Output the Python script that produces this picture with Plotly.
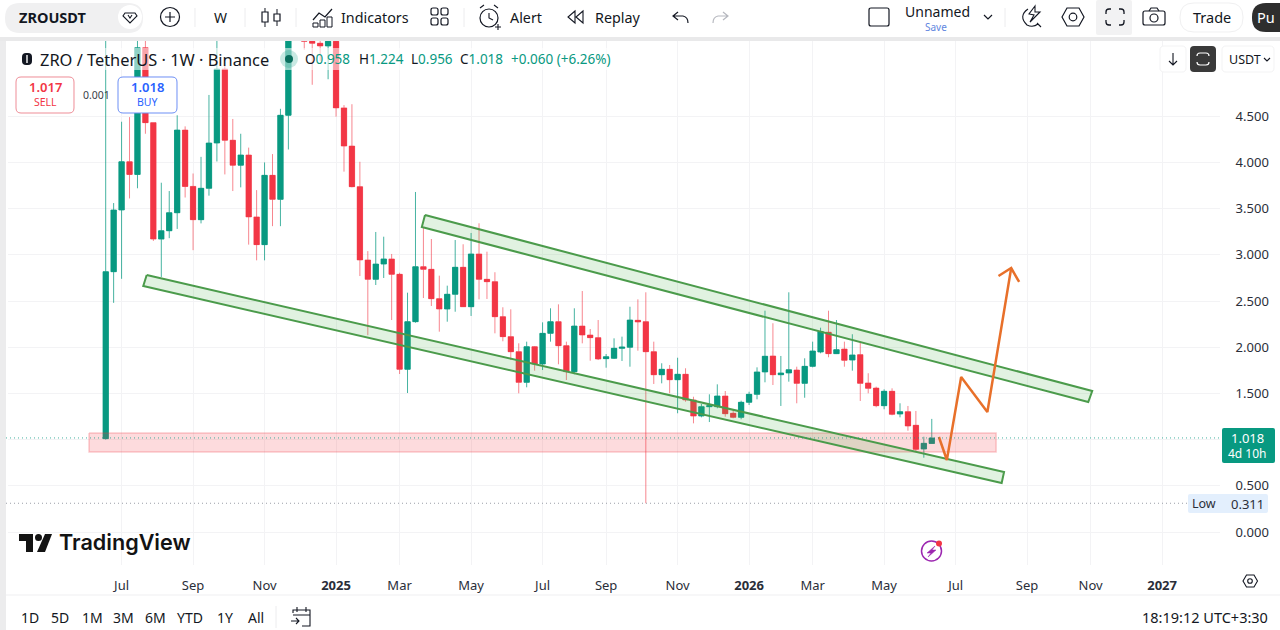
import re
import pandas as pd
import plotly.graph_objects as go

# ---------- data ----------
first_week = "2024-06-17"
opens = [1.01,2.817,3.485,4.007,3.87,5.24,4.43,3.17,3.26,3.455,4.35,3.74,3.38,3.72,4.21,5.01,4.24,3.97,4.08,3.41,
         3.11,3.86,3.60,4.51,5.9,6.25,5.31,5.29,5.26,5.31,4.59,4.177,3.737,2.944,2.735,2.90,2.955,2.789,1.761,2.276,
         2.871,2.843,2.525,2.413,2.573,2.865,2.438,3.009,2.735,2.709,2.33,2.114,1.951,1.62,2.005,1.818,2.15,2.276,2.016,1.735,
         2.229,2.132,2.103,1.876,1.88,1.988,2.0,2.291,2.276,1.951,1.702,1.761,1.648,1.707,1.429,1.255,1.356,1.356,1.472,1.285,
         1.241,1.404,1.49,1.732,1.905,1.702,1.721,1.753,1.609,1.793,1.948,2.162,1.93,1.98,1.861,1.919,1.613,1.558,1.367,1.523,
         1.277,1.302,1.155,0.898,0.958]
highs = [6.2,3.56,4.44,4.49,5.55,5.5,4.43,3.78,3.69,4.51,4.39,3.88,4.06,4.73,5.5,5.05,4.47,4.31,4.16,3.70,
         4.00,4.09,4.58,6.1,6.5,6.4,5.6,5.5,5.6,5.7,4.62,4.63,4.007,3.04,3.247,3.196,3.009,2.806,2.59,3.68,
         3.304,3.171,2.774,2.666,3.16,3.114,3.236,3.341,3.034,2.811,2.432,2.41,2.042,2.06,2.01,2.269,2.421,2.464,2.06,2.421,
         2.608,2.197,2.294,1.926,2.096,2.114,2.438,2.518,2.594,2.06,1.826,1.807,1.886,1.772,1.464,1.385,1.49,1.598,1.526,1.328,
         1.421,1.518,1.782,2.395,2.259,1.905,2.594,1.789,1.88,2.06,2.211,2.395,2.294,2.06,2.14,2.06,1.718,1.573,1.544,1.555,
         1.393,1.364,1.31,1.031,1.224]
lows = [1.0,2.48,2.74,3.61,3.72,4.31,3.15,2.76,3.18,3.28,3.62,3.05,3.34,3.64,4.01,3.87,3.69,3.73,3.11,2.94,
        2.94,3.31,3.31,4.14,5.7,5.22,4.84,5.1,4.90,4.495,3.90,3.73,2.77,2.13,2.673,2.749,2.294,1.71,1.504,2.265,
        2.532,2.446,2.168,2.276,2.384,2.435,2.338,2.518,2.522,2.15,2.064,1.861,1.501,1.566,1.746,1.753,2.06,1.815,1.645,1.707,
        2.042,1.854,1.861,1.778,1.872,1.851,1.789,1.962,0.311,1.602,1.609,1.501,1.285,1.41,1.176,1.241,1.19,1.339,1.248,1.231,
        1.22,1.374,1.436,1.62,1.591,1.364,1.627,1.393,1.453,1.782,1.934,1.891,1.926,1.789,1.746,1.418,1.501,1.35,1.328,1.263,
        1.241,1.096,0.869,0.804,0.956]
closes = [2.817,3.485,4.007,3.87,5.24,4.43,3.17,3.26,3.455,4.35,3.74,3.38,3.72,4.21,5.01,4.24,3.97,4.08,3.41,3.11,
          3.86,3.60,4.51,5.9,6.25,5.31,5.29,5.26,5.31,4.59,4.177,3.737,2.944,2.735,2.90,2.955,2.789,1.761,2.276,2.871,
          2.843,2.525,2.413,2.573,2.865,2.438,3.009,2.735,2.709,2.33,2.114,1.951,1.62,2.005,1.818,2.15,2.276,2.016,1.735,2.229,
          2.132,2.103,1.872,1.897,1.988,2.002,2.294,2.273,1.951,1.702,1.761,1.648,1.707,1.429,1.255,1.356,1.367,1.472,1.28,1.241,
          1.404,1.49,1.732,1.902,1.702,1.721,1.756,1.609,1.793,1.959,2.168,1.93,1.973,1.858,1.916,1.609,1.555,1.367,1.523,1.274,
          1.302,1.147,0.895,0.96,1.018]

last_price = 1.018
low_price = 0.311

price_ticks = [0, 0.5, 1.0, 1.5, 2.0, 2.5, 3.0, 3.5, 4.0, 4.5]
price_tick_labels = ["0.000", "0.500", "", "1.500", "2.000", "2.500", "3.000", "3.500", "4.000", "4.500"]
month_ticks = ["2024-07-01","2024-09-02","2024-11-04","2025-01-06","2025-03-03","2025-05-05","2025-07-07","2025-09-01",
               "2025-11-03","2026-01-05","2026-03-02","2026-05-04","2026-07-06","2026-09-07","2026-11-02","2027-01-04"]
month_labels = ["Jul","Sep","Nov","<b>2025</b>","Mar","May","Jul","Sep","Nov","<b>2026</b>","Mar","May","Jul","Sep","Nov","<b>2027</b>"]

# drawings: week offset from first candle, price
upper_weeks = [40.2, 124.2, 123.7, 39.8, 40.2]
upper_prices = [3.431, 1.526, 1.407, 3.301, 3.431]
lower_weeks = [5.16, 113.1, 112.8, 4.73, 5.16]
lower_prices = [2.781, 0.649, 0.530, 2.662, 2.781]
zone_weeks = [-2.1, 112.1, 112.1, -2.1, -2.1]
zone_prices = [1.071, 1.071, 0.866, 0.866, 1.071]
path_weeks = [104.9, 105.9, 107.7, 111.0, 114.0]
path_prices = [1.028, 0.779, 1.677, 1.299, 2.857]
head_weeks = [112.4, 114.0, 115.0]
head_prices = [2.771, 2.857, 2.706]

GREEN = "#089981"
RED = "#f23645"
BLUE = "#2962ff"
INK = "#131722"
FONT = "Noto Sans"


def wk(weeks):
    base = pd.Timestamp(first_week)
    return [base + pd.Timedelta(days=7 * w) for w in weeks]


dates = wk(range(len(opens)))

fig = go.Figure()
# wicks
fig.add_trace(go.Candlestick(
    x=dates, open=opens, high=highs, low=lows, close=closes,
    increasing=dict(line=dict(color="rgba(8,153,129,0.75)", width=1), fillcolor=GREEN),
    decreasing=dict(line=dict(color="rgba(242,54,69,0.6)", width=1), fillcolor=RED),
    showlegend=False, hoverinfo="skip"))
# solid bodies
fig.add_trace(go.Candlestick(
    x=dates, open=opens, close=closes,
    high=[max(o, c) for o, c in zip(opens, closes)],
    low=[min(o, c) for o, c in zip(opens, closes)],
    increasing=dict(line=dict(color=GREEN, width=0), fillcolor=GREEN),
    decreasing=dict(line=dict(color=RED, width=0), fillcolor=RED),
    showlegend=False, hoverinfo="skip"))


def drawing(weeks, prices, line, fill=None, width=2):
    fig.add_trace(go.Scatter(
        x=wk(weeks), y=prices, mode="lines", showlegend=False, hoverinfo="skip",
        line=dict(color=line, width=width),
        fill="toself" if fill else None, fillcolor=fill))


drawing(zone_weeks, zone_prices, "rgba(242,54,69,0.25)", "rgba(242,54,69,0.18)", 1.5)
drawing(upper_weeks, upper_prices, "#4b9b4b", "rgba(76,175,80,0.17)", 2)
drawing(lower_weeks, lower_prices, "#4b9b4b", "rgba(76,175,80,0.17)", 2)
drawing(path_weeks, path_prices, "#e8702a", None, 2.5)
drawing(head_weeks, head_prices, "#e8702a", None, 2.5)

# ---------- page chrome, in pixels of the 1280x630 page ----------
shapes = []
annots = []


def X(x): return x / 1280
def Y(y): return 1 - y / 630


def P(d):
    it = iter(re.findall(r"[A-Za-z]|-?\d+\.?\d*", d))
    out = []
    for tok in it:
        if tok.isalpha():
            out.append(tok)
        else:
            out.append(f"{X(float(tok)):.5f},{Y(float(next(it))):.5f}")
    return " ".join(out)


def path(d, line=INK, width=1.2, fill=None):
    shapes.append(dict(type="path", xref="paper", yref="paper", path=P(d), layer="above",
                       line=dict(color=line, width=width), fillcolor=fill or "rgba(0,0,0,0)"))


def rrect(x0, y0, x1, y1, r=0, line=None, width=1, fill=None):
    d = (f"M {x0+r} {y0} L {x1-r} {y0} Q {x1} {y0} {x1} {y0+r} L {x1} {y1-r} Q {x1} {y1} {x1-r} {y1} "
         f"L {x0+r} {y1} Q {x0} {y1} {x0} {y1-r} L {x0} {y0+r} Q {x0} {y0} {x0+r} {y0} Z")
    shapes.append(dict(type="path", xref="paper", yref="paper", path=P(d), layer="above",
                       line=dict(color=line or "rgba(0,0,0,0)", width=width if line else 0),
                       fillcolor=fill or "rgba(0,0,0,0)"))


def circ(cx, cy, r, line=INK, width=1.2, fill=None):
    shapes.append(dict(type="circle", xref="paper", yref="paper", layer="above",
                       x0=X(cx - r), x1=X(cx + r), y0=Y(cy + r), y1=Y(cy - r),
                       line=dict(color=line or "rgba(0,0,0,0)", width=width if line else 0),
                       fillcolor=fill or "rgba(0,0,0,0)"))


def text(x, y, s, size=14, color=INK, anchor="center", family=FONT, weight=None):
    f = dict(size=size, color=color, family=family)
    if weight:
        f["weight"] = weight
    annots.append(dict(xref="paper", yref="paper", x=X(x), y=Y(y), text=s, showarrow=False,
                       xanchor=anchor, yanchor="middle", font=f, borderpad=0, borderwidth=0))


# frame
rrect(0, 37, 1280, 41, fill="#e9e9ea")
rrect(0, 41, 6, 630, fill="#ececed")
path("M 6 595 L 1280 595", line="#efeff1", width=1)

# translucent strip under the legend
rrect(36, 48, 612, 70, fill="rgba(255,255,255,0.55)")

# top toolbar
rrect(5, 3, 143, 33, r=15, fill="#f0f0f1")
text(19, 17, "ZROUSDT", 14.5, anchor="left", weight=700)
circ(130, 17, 12, line=None, fill="#ffffff")
path("M 125 13 L 135 13 L 137 16 L 130 23 L 123 16 Z M 128 15 L 130 18 L 132 15", width=1.1)
circ(170, 17, 9.5)
path("M 170 12 L 170 22 M 165 17 L 175 17")
for dx in (195, 245, 296, 464, 1005):
    path(f"M {dx} 8 L {dx} 27", line="#ececee", width=1)
text(220, 17, "W", 14)
path("M 265 8 L 265 27 M 277 9 L 277 26", width=1)
rrect(262, 12, 268, 22, line=INK, width=1.2, fill="#ffffff")
rrect(274, 14, 280, 21, line=INK, width=1.2, fill="#ffffff")
path("M 313 20 L 319 13 L 325 17 L 332 9", width=1.2)
path("M 313 27 L 313 23 L 318 23 L 318 27 Z M 320 27 L 320 20 L 325 20 L 325 27 Z M 327 27 L 327 17 L 332 17 L 332 27 Z", width=1)
text(341, 17, "Indicators", 14.3, anchor="left")
for gx, gy in ((431, 8), (441, 8), (431, 18), (441, 18)):
    rrect(gx, gy, gx + 7, gy + 7, r=2, line=INK, width=1.2)
circ(489, 18, 9)
path("M 489 13 L 489 18 L 493 20 M 480 8 L 484 5 M 498 8 L 494 5 M 495 27 L 501 27 M 498 24 L 498 30", width=1.1)
text(510, 17, "Alert", 14.3, anchor="left")
path("M 575 11 L 568 17 L 575 23 Z M 583 11 L 576 17 L 583 23 Z", width=1.1)
text(595, 17, "Replay", 14.3, anchor="left")
path("M 678 12 L 673 16 L 678 20 M 673 16 L 683 16 Q 688 17 688 23", width=1.2)
path("M 723 12 L 728 16 L 723 20 M 728 16 L 718 16 Q 713 17 713 23", line="#b6b8bf", width=1.2)
rrect(869, 8, 889, 26, r=2, line=INK, width=1.2)
text(937, 11.5, "Unnamed", 14)
text(936, 27, "Save", 10, color="#5f86e0")
path("M 984 15 L 988 19 L 992 15", width=1.2)
path("M 1035 6 L 1029 14 L 1034 15 L 1030 22 L 1040 12 L 1035 12 Z M 1028 9 Q 1018 16 1027 25 Q 1033 28 1038 24 M 1037 23 L 1041 27", width=1.1)
path("M 1062 17 L 1067 8 L 1079 8 L 1084 17 L 1079 26 L 1067 26 Z", width=1.2)
circ(1073, 17, 3.8)
rrect(1096, 0, 1132, 35, r=2, fill="#f2f2f3")
path("M 1106 14 L 1106 12 Q 1106 9 1109 9 L 1111 9 M 1119 9 L 1121 9 Q 1124 9 1124 12 L 1124 14 "
     "M 1124 20 L 1124 22 Q 1124 25 1121 25 L 1119 25 M 1111 25 L 1109 25 Q 1106 25 1106 22 L 1106 20", width=1.3)
rrect(1143, 11, 1165, 25, r=2, line=INK, width=1.2)
path("M 1149 11 L 1151 8 L 1157 8 L 1159 11", width=1.2)
circ(1154, 18, 4)
rrect(1180, 3, 1243, 32, r=14, line="#f0f0f1", width=1, fill="#ffffff")
text(1212, 17, "Trade", 14.5)
rrect(1252, 3, 1300, 32, r=14, fill="#2e2e2e")
text(1266, 17, "Pu", 14.5, color="#ffffff", anchor="center")

# legend row
rrect(22, 53, 32, 65, r=4, fill="#131722")
path("M 27 55 L 27 63", line="#ffffff", width=1.4)
text(40, 59, "ZRO / TetherUS · 1W · Binance", 16.4, anchor="left")
circ(289, 59, 9, line=None, fill="rgba(8,153,129,0.22)")
circ(289, 59, 4, line=None, fill="#0a6e5d")
for lx, letter, val in ((305, "O", "0.958"), (358.5, "H", "1.224"), (410.5, "L", "0.956"), (459.5, "C", "1.018")):
    text(lx, 59, f'{letter}<span style="color:{GREEN}">{val}</span>', 13.5, anchor="left")
text(510.5, 59, "+0.060 (+6.26%)", 13.5, color=GREEN, anchor="left")

# buy / sell
rrect(16, 77, 74, 113, r=5, line="#ee8d97", width=1, fill="#ffffff")
text(45, 87, "1.017", 13, color=RED, weight=600)
text(45, 102, "SELL", 10.5, color=RED)
text(96, 95, "0.001", 10.5, color="#3a3e48")
rrect(118, 77, 177, 113, r=5, line="#6d8ff5", width=1, fill="#ffffff")
text(147.5, 87, "1.018", 13, color=BLUE, weight=600)
text(147.5, 102, "BUY", 10.5, color=BLUE)

# top-right controls
rrect(1160, 46, 1186, 72, r=4, line="#f3f3f4", width=1, fill="#ffffff")
path("M 1173 53 L 1173 65 M 1169 61 L 1173 65 L 1177 61", width=1.1)
rrect(1190, 46, 1216, 72, r=4, fill="#3a3a3a")
path("M 1197 56 Q 1197 53 1200 53 L 1206 53 Q 1209 53 1209 56 M 1209 62 Q 1209 65 1206 65 L 1200 65 Q 1197 65 1197 62",
     line="#ffffff", width=1.2)
rrect(1222, 46, 1274, 72, r=4, line="#f3f3f4", width=1, fill="#ffffff")
text(1229, 59, "USDT", 12.5, anchor="left")
path("M 1264 58 L 1267 61 L 1270 58", width=1.1)

# price tags
rrect(1222, 428, 1275, 463, r=2, fill=GREEN)
text(1247, 438, "1.018", 13, color="#ffffff")
text(1247, 453, "4d 10h", 12, color="#ffffff")
rrect(1188, 494, 1268, 513, r=2, fill="#e3effd")
text(1204, 503.5, "Low", 12.5, color="#2a2e39")
text(1247, 503.5, "0.311", 13, color="#2a2e39")

# TradingView logo
path("M 19 534 L 33 534 L 33 552 L 26 552 L 26 541 L 19 541 Z", line=INK, width=0, fill="#131313")
circ(38.5, 537.5, 3.5, line=None, fill="#131313")
path("M 45 534 L 52 534 L 45 552 L 37 552 Z", line=INK, width=0, fill="#131313")
text(59, 542, "TradingView", 21.6, color="#131313", anchor="left", family="Inter", weight=600)

# bolt badge
circ(931.5, 551, 10, line="#9c27b0", width=1.5)
path("M 935 546 L 927 553 L 931 553 L 928 557 L 936 550 L 932 550 Z", line="#9c27b0", width=0.5, fill="#9c27b0")
circ(939, 543.5, 3, line=None, fill="#f23645")

# settings hexagon
path("M 1243 581 L 1246.5 575 L 1254 575 L 1257.5 581 L 1254 587 L 1246.5 587 Z", width=1.1)
circ(1250, 581, 2.3, width=1.1)

# bottom toolbar
for bx, s in ((30, "1D"), (60, "5D"), (92, "1M"), (123, "3M"), (155, "6M"), (190, "YTD"), (225, "1Y"), (256, "All")):
    text(bx, 617, s, 14)
path("M 276 606 L 276 628", line="#ececee", width=1)
path("M 293 613 L 293 610 L 310 610 L 310 626 L 302 626 M 293 615 L 310 615 M 297 607 L 297 612 M 306 607 L 306 612 M 291 621 L 299 621 M 296 618 L 299 621 L 296 624", width=1.1)
text(1268, 617, "18:19:12 UTC+3:30", 14.5, anchor="right")

# reference lines through the price scale
shapes.append(dict(type="line", xref="paper", yref="y", x0=X(6), x1=X(1222), y0=last_price, y1=last_price, layer="above",
                   line=dict(color="rgba(8,153,129,0.75)", width=1, dash="1px,3px")))
shapes.append(dict(type="line", xref="paper", yref="y", x0=X(6), x1=X(1188), y0=low_price, y1=low_price, layer="above",
                   line=dict(color="#9a9ea8", width=1, dash="1px,3px")))

px_per_week = 7.943
left_week = (8 - 105.7) / px_per_week
right_week = (1220 - 105.7) / px_per_week
px_per_unit = 92.4

fig.update_layout(
    width=1280, height=630, margin=dict(l=0, r=0, t=0, b=0),
    paper_bgcolor="#ffffff", plot_bgcolor="#ffffff",
    font=dict(family=FONT, size=13, color=INK),
    showlegend=False, boxgap=0.32, boxgroupgap=0, hovermode=False,
    shapes=shapes, annotations=annots,
    xaxis=dict(
        domain=[X(8), X(1220)], type="date", range=wk([left_week, right_week]),
        rangeslider=dict(visible=False), tickmode="array", tickvals=month_ticks, ticktext=month_labels,
        showgrid=True, gridcolor="#f3f3f5", gridwidth=1, zeroline=False, showline=False,
        ticks="outside", ticklen=8, tickcolor="#ffffff", tickfont=dict(size=13, color="#2a2e39"), anchor="y"),
    yaxis=dict(
        domain=[Y(565), Y(41)], range=[(532 - 565) / px_per_unit, (532 - 41) / px_per_unit],
        side="right", tickmode="array", tickvals=price_ticks, ticktext=price_tick_labels,
        showgrid=True, gridcolor="#f3f3f5", gridwidth=1, zeroline=False, showline=False,
        ticks="outside", ticklen=12, tickcolor="#ffffff", tickfont=dict(size=13, color="#2a2e39"), anchor="x"),
)

fig.write_html("out.html", config=dict(displayModeBar=False),
               post_script="document.body.style.margin='0';document.body.style.overflow='hidden';")
